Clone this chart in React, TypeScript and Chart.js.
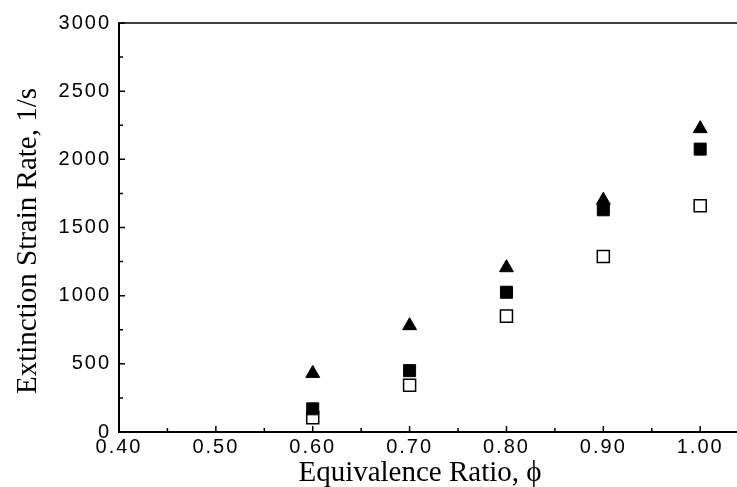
import React, { useEffect, useRef } from "react";
import { Chart, registerables } from "chart.js";

Chart.register(...registerables);

const phiValues = [0.6, 0.7, 0.8, 0.9, 1.0];
const triangleValues = [430, 780, 1205, 1700, 2225];
const filledSquareValues = [170, 450, 1025, 1630, 2075];
const openSquareValues = [105, 343, 850, 1288, 1660];

const xMajorTicks = [0.4, 0.5, 0.6, 0.7, 0.8, 0.9, 1.0];
const xMinorTicks = [0.45, 0.55, 0.65, 0.75, 0.85, 0.95];
const yMajorTicks = [0, 500, 1000, 1500, 2000, 2500, 3000];
const yMinorTicks = [250, 750, 1250, 1750, 2250, 2750];

const xTitle = "Equivalence Ratio, \u03D5";
const yTitle = "Extinction Strain Rate, 1/s";

const SERIF = "'Liberation Serif', 'Times New Roman', serif";
const SANS = "'Liberation Sans', Arial, sans-serif";

const toPoints = (vals: number[]) => phiValues.map((x, i) => ({ x, y: vals[i] }));

const framePlugin = {
  id: "frame",
  afterDatasetsDraw(chart: any) {
    const { ctx, chartArea, scales } = chart;
    const xs = scales.x;
    const ys = scales.y;
    ctx.save();
    ctx.strokeStyle = "#000";
    ctx.lineCap = "butt";
    ctx.lineWidth = 1.5;
    ctx.beginPath();
    ctx.moveTo(chartArea.left, chartArea.top);
    ctx.lineTo(chartArea.right, chartArea.top);
    ctx.stroke();
    ctx.lineWidth = 2;
    ctx.beginPath();
    ctx.moveTo(chartArea.left, chartArea.top - 0.75);
    ctx.lineTo(chartArea.left, chartArea.bottom);
    ctx.lineTo(chartArea.right, chartArea.bottom);
    ctx.stroke();
    ctx.lineWidth = 1.5;
    ctx.beginPath();
    xMajorTicks.forEach((v) => {
      const px = xs.getPixelForValue(v);
      ctx.moveTo(px, chartArea.bottom);
      ctx.lineTo(px, chartArea.bottom - 6);
    });
    xMinorTicks.forEach((v) => {
      const px = xs.getPixelForValue(v);
      ctx.moveTo(px, chartArea.bottom);
      ctx.lineTo(px, chartArea.bottom - 4);
    });
    yMajorTicks.forEach((v) => {
      const py = ys.getPixelForValue(v);
      ctx.moveTo(chartArea.left, py);
      ctx.lineTo(chartArea.left + 6, py);
    });
    yMinorTicks.forEach((v) => {
      const py = ys.getPixelForValue(v);
      ctx.moveTo(chartArea.left, py);
      ctx.lineTo(chartArea.left + 4, py);
    });
    ctx.stroke();

    // axis titles
    ctx.fillStyle = "#000";
    ctx.font = `29px ${SERIF}`;
    ctx.textAlign = "center";
    ctx.textBaseline = "alphabetic";
    ctx.fillText(xTitle, 420, 481);
    ctx.save();
    ctx.translate(36, 241);
    ctx.rotate(-Math.PI / 2);
    ctx.fillText(yTitle, 0, 0);
    ctx.restore();
    ctx.restore();
    // letter spacing for tick labels (drawn after datasets with z=1)
    (ctx as any).letterSpacing = "2px";
  },
  afterDraw(chart: any) {
    (chart.ctx as any).letterSpacing = "0px";
  },
};

export default function App() {
  const canvasRef = useRef<HTMLCanvasElement | null>(null);

  useEffect(() => {
    const canvas = canvasRef.current;
    if (!canvas) return;
    const chart = new Chart(canvas, {
      type: "scatter",
      data: {
        datasets: [
          {
            label: "triangles",
            data: toPoints(triangleValues),
            pointStyle: "triangle",
            pointRadius: 8,
            backgroundColor: "#000",
            borderColor: "#000",
            borderWidth: 1,
          },
          {
            label: "filled squares",
            data: toPoints(filledSquareValues),
            pointStyle: "rect",
            pointRadius: 8.5,
            backgroundColor: "#000",
            borderColor: "#000",
            borderWidth: 1,
          },
          {
            label: "open squares",
            data: toPoints(openSquareValues),
            pointStyle: "rect",
            pointRadius: 8.5,
            backgroundColor: "#fff",
            borderColor: "#000",
            borderWidth: 1.5,
          },
        ],
      },
      options: {
        animation: false,
        responsive: false,
        maintainAspectRatio: false,
        layout: { autoPadding: false, padding: { top: 23, right: 0, left: 0, bottom: 0 } },
        plugins: {
          legend: { display: false },
          tooltip: { enabled: false },
        },
        scales: {
          x: {
            type: "linear",
            min: 0.4,
            max: 1.038,
            grid: { display: false, drawTicks: false },
            border: { display: false },
            afterBuildTicks: (scale: any) => {
              scale.ticks = xMajorTicks.map((v) => ({ value: v }));
            },
            afterFit: (scale: any) => {
              scale.height = 55;
              scale.paddingLeft = 0;
              scale.paddingRight = 0;
            },
            ticks: {
              z: 1,
              color: "#000",
              padding: 3,
              autoSkip: false,
              maxRotation: 0,
              font: { family: SANS, size: 20 },
              callback: (v: any) => Number(v).toFixed(2),
            },
            title: { display: false },
          },
          y: {
            type: "linear",
            min: 0,
            max: 3000,
            grid: { display: false, drawTicks: false },
            border: { display: false },
            afterBuildTicks: (scale: any) => {
              scale.ticks = yMajorTicks.map((v) => ({ value: v }));
            },
            afterFit: (scale: any) => {
              scale.width = 119;
              scale.paddingTop = 0;
              scale.paddingBottom = 0;
            },
            ticks: {
              z: 1,
              color: "#000",
              padding: 8,
              autoSkip: false,
              font: { family: SANS, size: 20 },
              callback: (v: any) => String(v),
            },
            title: { display: false },
          },
        },
      },
      plugins: [framePlugin],
    });
    return () => chart.destroy();
  }, []);

  return (
    <div style={{ position: "absolute", left: 0, top: 0, width: 737, height: 487, background: "#fff", overflow: "hidden" }}>
      <canvas ref={canvasRef} width={737} height={487} style={{ display: "block", width: 737, height: 487 }} />
    </div>
  );
}
